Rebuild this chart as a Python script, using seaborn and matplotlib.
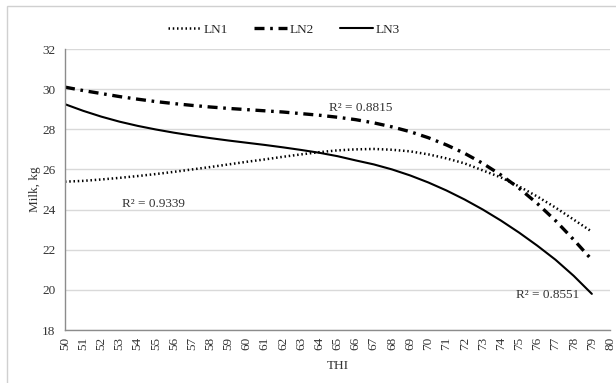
import matplotlib
matplotlib.use("Agg")
import matplotlib.pyplot as plt
import pandas as pd
import seaborn as sns
from matplotlib.patches import Rectangle

THI = list(range(50, 80))
LN1 = [25.39, 25.43, 25.50, 25.58, 25.67, 25.77, 25.88, 26.00, 26.12, 26.25,
       26.38, 26.50, 26.63, 26.75, 26.86, 26.95, 27.00, 27.02, 26.98, 26.90,
       26.75, 26.55, 26.30, 25.95, 25.60, 25.15, 24.65, 24.10, 23.50, 22.90]
LN2 = [30.10, 29.93, 29.78, 29.63, 29.50, 29.38, 29.28, 29.19, 29.11, 29.04,
       28.98, 28.92, 28.86, 28.78, 28.70, 28.60, 28.48, 28.32, 28.12, 27.88,
       27.58, 27.22, 26.80, 26.30, 25.72, 25.06, 24.30, 23.45, 22.50, 21.50]
LN3 = [29.25, 28.92, 28.63, 28.38, 28.17, 27.99, 27.83, 27.69, 27.56, 27.44,
       27.33, 27.22, 27.10, 26.97, 26.83, 26.66, 26.45, 26.25, 26.00, 25.70,
       25.35, 24.95, 24.50, 24.00, 23.45, 22.85, 22.20, 21.50, 20.70, 19.80]
SERIES = ["LN1", "LN2", "LN3"]
R2_LABELS = ["R² = 0.9339", "R² = 0.8815", "R² = 0.8551"]

sns.set_theme(style="white")
plt.rcParams["font.family"] = ["Liberation Serif", "DejaVu Serif"]

df = pd.DataFrame({"THI": THI * 3,
                   "Milk": LN1 + LN2 + LN3,
                   "Series": [s for s in SERIES for _ in THI]})

fig = plt.figure(figsize=(6.16, 3.83), dpi=100)
ax = fig.add_axes([65 / 616, 1 - 330 / 383, (610 - 65) / 616, (330 - 49) / 383])

styles = {"LN1": dict(lw=1.8, dashes=(0.6, 1.1)),
          "LN2": dict(lw=2.4, dashes=(3.0, 1.7, 0.8, 1.7)),
          "LN3": dict(lw=1.5, dashes=())}
for s in SERIES:
    sub = df[df["Series"] == s]
    st = styles[s]
    sns.lineplot(data=sub, x="THI", y="Milk", ax=ax, color="black",
                 lw=st["lw"], label=s)
    l = ax.get_lines()[-1]
    if st["dashes"]:
        l.set_dashes(st["dashes"])

ax.set_xlim(50, 80)
ax.set_ylim(18, 32)
ax.set_xticks(range(50, 81))
ax.set_xticklabels([str(v) for v in range(50, 81)], rotation=90, fontsize=9.5, color="#333333")
ax.set_yticks(range(18, 33, 2))
ax.set_yticklabels([str(v) for v in range(18, 33, 2)], fontsize=9.5, color="#333333")
ax.tick_params(axis="y", length=0, pad=7)
ax.tick_params(axis="x", length=0, pad=5)
ax.yaxis.grid(True, color="#d9d9d9", lw=1)
ax.xaxis.grid(False)
for side in ["top", "right"]:
    ax.spines[side].set_visible(False)
for side in ["left", "bottom"]:
    ax.spines[side].set_color("#8c8c8c")
    ax.spines[side].set_linewidth(1)
ax.set_xlabel("THI", fontsize=9.5, color="#333333", labelpad=7)
ax.set_ylabel("Milk, kg", fontsize=9.5, color="#333333", labelpad=1)

ax.text(54.85, 24.3, R2_LABELS[0], fontsize=9.5, ha="center", va="center", color="#333333")
ax.text(66.3, 29.05, R2_LABELS[1], fontsize=9.5, ha="center", va="center", color="#333333")
ax.text(78.3, 19.75, R2_LABELS[2], fontsize=9.5, ha="right", va="center", color="#333333")

fig.legend(*ax.get_legend_handles_labels(), loc="center",
           bbox_to_anchor=(284 / 616, 1 - 30 / 383), ncol=3, frameon=False,
           fontsize=9.5, handlelength=2.5, handletextpad=0.2, columnspacing=2.0)
ax.get_legend().remove()

fig.patches.append(Rectangle((7 / 616, -0.1), 1.0, 1.1 - 6 / 383,
                             transform=fig.transFigure, fill=False,
                             edgecolor="#d0d0d0", lw=1))

fig.savefig("out.png", dpi=100)
